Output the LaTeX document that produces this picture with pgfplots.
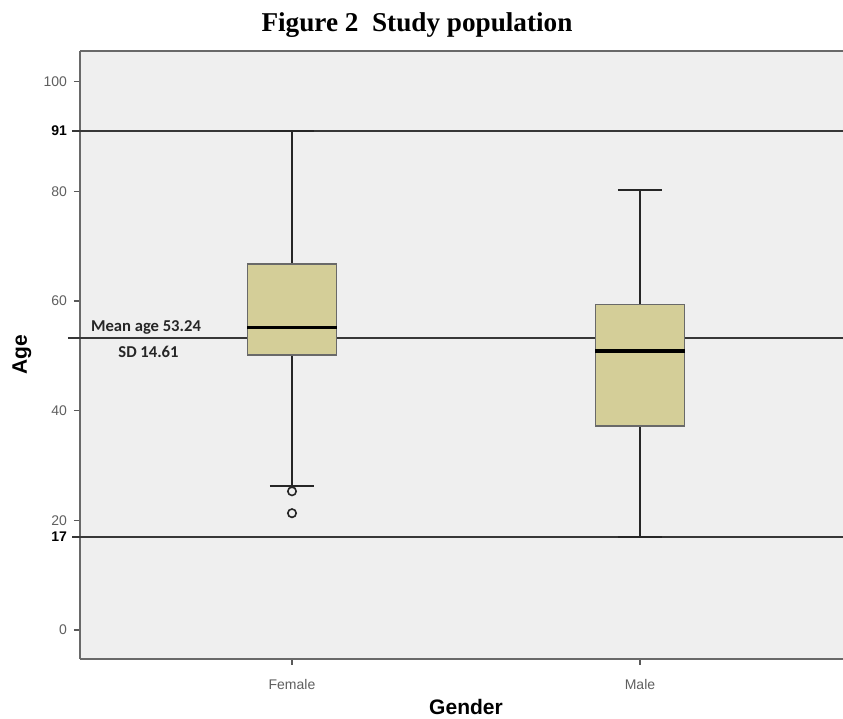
\documentclass[border=0pt]{standalone}
\usepackage{fontspec}
\setmainfont{Liberation Sans}
\newfontfamily\titlefont{Liberation Serif}
\newfontfamily\notefont{Carlito}
\usepackage{pgfplots}
\pgfplotsset{compat=1.18}
\usepgfplotslibrary{statistics}

\definecolor{plotbg}{RGB}{239,239,239}
\definecolor{boxfill}{RGB}{212,206,152}
\definecolor{spine}{RGB}{105,105,105}
\definecolor{reflinec}{RGB}{55,55,55}
\definecolor{ticktext}{RGB}{95,95,95}

\begin{document}
\begin{tikzpicture}
\useasboundingbox (0,0) rectangle (421.5pt,359.5pt);
% the plot area runs on past the right edge of the page
\begin{axis}[
  at={(40pt,30pt)}, anchor=south west,
  scale only axis, width=390pt, height=304pt,
  xmin=-0.6092, xmax=1.6322, ymin=-5.29, ymax=105.6,
  axis lines=left, axis line style={-, spine, line width=1pt},
  axis background/.style={fill=plotbg},
  xtick={0,1}, xticklabels={Female,Male},
  ytick={0,17,20,40,60,80,91,100},
  yticklabels={0,\textcolor{black}{\textbf{17}},20,40,60,80,\textcolor{black}{\textbf{91}},100},
  tick align=outside, major tick length=3pt,
  tick style={black!65, line width=0.7pt},
  tick label style={font=\fontsize{7}{8}\selectfont, text=ticktext},
  xticklabel style={yshift=-3.5pt},
  /pgf/number format/assume math mode=true,
  clip=false,
  boxplot/draw direction=y,
  boxplot/every box/.style={draw=spine, line width=0.6pt, fill=boxfill},
  boxplot/every median/.style={black, line width=1.6pt},
  boxplot/every whisker/.style={black!85, line width=0.9pt},
]
% reference lines: oldest age, youngest age, mean age
\addplot[reflinec, line width=0.8pt] coordinates {(-0.632,91) (1.6322,91)};
\addplot[reflinec, line width=0.8pt] coordinates {(-0.632,17) (1.6322,17)};
\addplot[reflinec, line width=0.8pt] coordinates {(-0.644,53.24) (1.6322,53.24)};

% Female
\addplot[boxplot prepared={draw position=0, median=55.1,
    upper quartile=66.75, lower quartile=50.15,
    upper whisker=91, lower whisker=26.3,
    box extend=0.256, whisker extend=0.127},
  mark=o, mark size=2.1pt, mark options={draw=black!85, fill=plotbg, line width=0.8pt}]
  coordinates {(0,25.3) (0,21.3)};

% Male
\addplot[boxplot prepared={draw position=1, median=50.9,
    upper quartile=59.3, lower quartile=37.2,
    upper whisker=80.2, lower whisker=17,
    box extend=0.256, whisker extend=0.127}]
  coordinates {};

\node[font=\notefont\bfseries\fontsize{8.3}{10}\selectfont, text=black!85, yshift=5.3pt]
  at (axis cs:-0.4195,53.24) {Mean age 53.24};
\node[font=\notefont\bfseries\fontsize{8.3}{10}\selectfont, text=black!85, yshift=-6.8pt]
  at (axis cs:-0.4124,53.24) {SD 14.61};
\end{axis}
% top border of the plot area
\draw[spine, line width=1pt] (40pt,334pt) -- (430pt,334pt);
\node[font=\titlefont\bfseries\fontsize{13.6}{16}\selectfont] at (208.5pt,347pt) {Figure 2\ \ Study population};
\node[font=\bfseries\fontsize{10.5}{12}\selectfont, rotate=90] at (11pt,182pt) {Age};
\node[font=\bfseries\fontsize{10.5}{12}\selectfont] at (233pt,6pt) {Gender};
\end{tikzpicture}
\end{document}
